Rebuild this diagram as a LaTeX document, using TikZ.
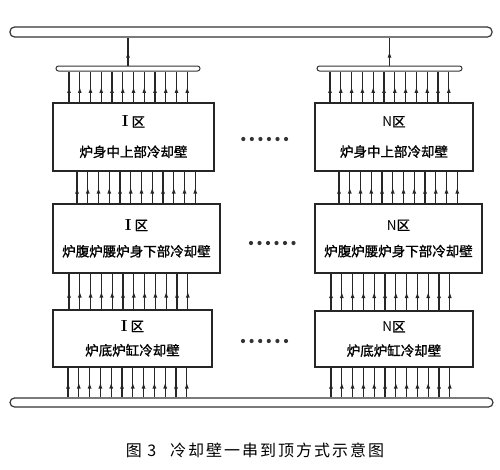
\documentclass[tikz,border=0pt]{standalone}
\usepackage{fontspec}
\newfontfamily\cjk[FakeBold=1.2]{Noto Sans CJK SC}
\newfontfamily\capfont[LetterSpace=12.5]{Noto Sans CJK SC}
\newcommand{\zoneI}{{\rmfamily\bfseries\fontsize{16}{18}\selectfont I}}
\usetikzlibrary{positioning,arrows.meta,decorations.markings}

\begin{document}
\begin{tikzpicture}[x=1pt,y=-1pt,
    wall/.style={draw=black!85,line width=1.2pt,align=center,inner sep=0pt,
        font=\cjk\fontsize{13.5}{18}\selectfont},
    header/.style={draw=black!80,line width=1.2pt,rounded corners=4.5pt,inner sep=0pt},
    collector/.style={draw=black!80,line width=1pt,rounded corners=2.5pt,inner sep=0pt,
        minimum height=5pt},
    tube/.style={draw=black!85,line width=1.1pt,postaction={decorate},
        decoration={markings,mark=at position 0.5 with {\arrow{Latex[length=6pt,width=4pt]}}}},
    dotrow/.style={fill=black!80}
]
\useasboundingbox (0,0) rectangle (500,469);

% headers and collectors
\node[header,minimum width=482pt,minimum height=10pt] (hdrtop) at (251,32) {};
\node[header,minimum width=483pt,minimum height=9pt] (hdrbot) at (251.5,402.5) {};
\node[collector,minimum width=144pt] (colI) at (128,68.5) {};
\node[collector,minimum width=145pt] (colN) at (389.5,68.5) {};

% zone I
\node[wall,minimum width=161pt,minimum height=68pt] (upI) at (133.5,137) {\zoneI\ 区\\[12pt]炉身中上部冷却壁};
\node[wall,minimum width=167pt,minimum height=69pt] (midI) at (136.5,238.5) {\zoneI\ 区\\[8pt]炉腹炉腰炉身下部冷却壁};
\node[wall,minimum width=159pt,minimum height=57pt] (lowI) at (132.5,338.5) {\zoneI\ 区\\[6pt]炉底炉缸冷却壁};

% zone N
\node[wall,minimum width=158pt,minimum height=68pt] (upN) at (394,137) {{\capfont N}区\\[12pt]炉身中上部冷却壁};
\node[wall,minimum width=167pt,minimum height=69pt] (midN) at (398.5,238.5) {{\capfont N}区\\[8pt]炉腹炉腰炉身下部冷却壁};
\node[wall,minimum width=158pt,minimum height=56pt] (lowN) at (394,339) {{\capfont N}区\\[6pt]炉底炉缸冷却壁};

% outlets to top header
\draw[tube] (colI.north) -- (colI.north |- hdrtop.south);
\draw[tube] (colN.north) -- (colN.north |- hdrtop.south);

% cooling tubes
\foreach \i in {0,...,11} {
    \draw[tube] (68+\i*10.8,0 |- hdrbot.north) -- (68+\i*10.8,0 |- lowI.south);
    \draw[tube] (69+\i*10.8,0 |- lowI.north) -- (69+\i*10.8,0 |- midI.south);
    \draw[tube] (77+\i*10.75,0 |- midI.north) -- (77+\i*10.75,0 |- upI.south);
    \draw[tube] (69+\i*10.75,0 |- upI.north) -- (69+\i*10.75,0 |- colI.south);
    \draw[tube] (331+\i*10.8,0 |- hdrbot.north) -- (331+\i*10.8,0 |- lowN.south);
    \draw[tube] (331+\i*10.8,0 |- lowN.north) -- (331+\i*10.8,0 |- midN.south);
    \draw[tube] (339+\i*10.75,0 |- midN.north) -- (339+\i*10.75,0 |- upN.south);
    \draw[tube] (330+\i*10.8,0 |- upN.north) -- (330+\i*10.8,0 |- colN.south);
}

% dots between zones
\foreach \k in {0,...,5} {
    \fill[dotrow] (243.3+\k*8.55,139) circle (2.1pt);
    \fill[dotrow] (251+\k*8.5,243) circle (2.1pt);
    \fill[dotrow] (243+\k*8.6,341) circle (2.1pt);
}

\node[font=\capfont\fontsize{16}{18}\selectfont,inner sep=0pt] (caption) at (255,450) {图 3\hspace{14pt}冷却壁一串到顶方式示意图};
\end{tikzpicture}
\end{document}
